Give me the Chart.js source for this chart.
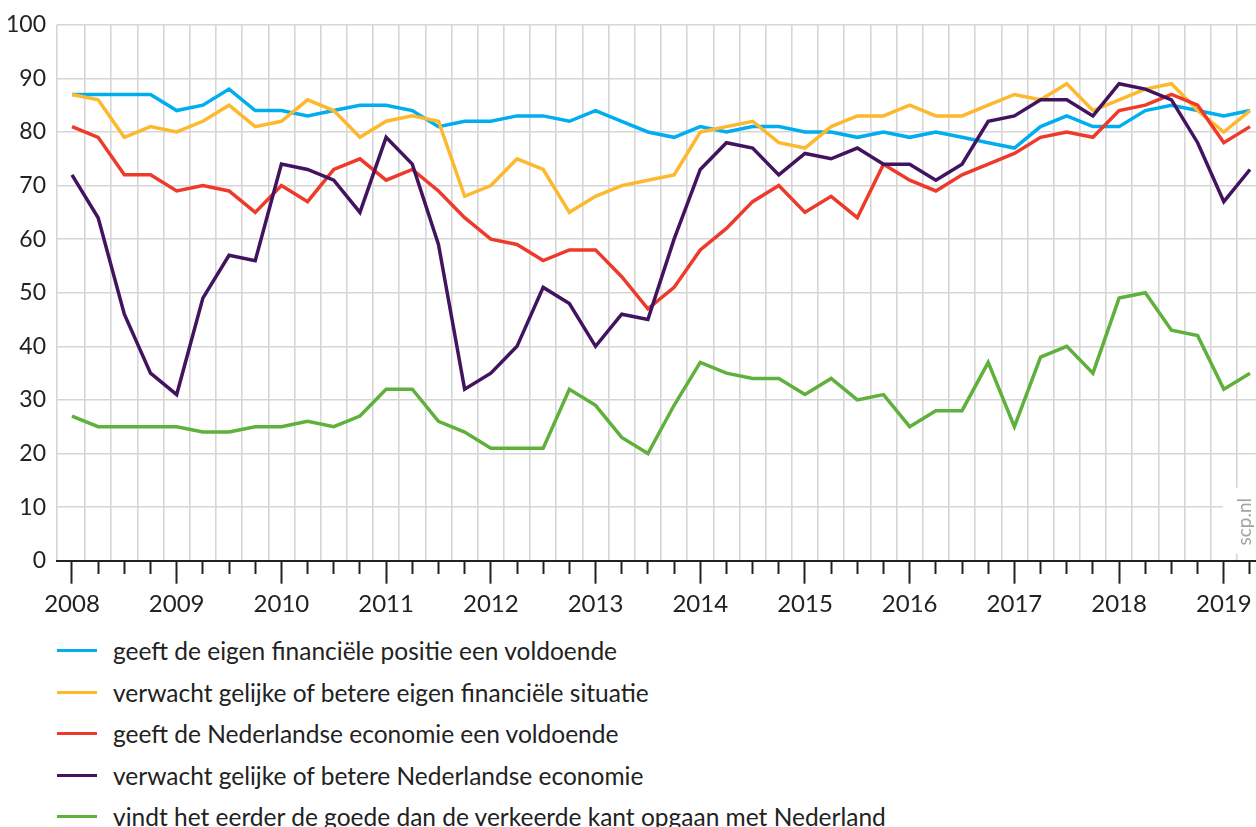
<!DOCTYPE html>
<html lang="nl">
<head>
<meta charset="utf-8">
<title>Vertrouwen in financiële situatie en economie</title>
<script src="https://cdn.jsdelivr.net/npm/chart.js@4.4.1/dist/chart.umd.min.js"></script>
<style>
  html, body { margin: 0; padding: 0; background: #fff; }
  body { width: 1256px; height: 827px; overflow: hidden; position: relative; font-family: Lato, "Noto Sans", sans-serif; color: #222; }
  #wrap { position: absolute; left: 0; top: 0; width: 1256px; height: 628px; }
  #legenda { position: absolute; left: 57px; top: 630px; margin: 0; padding: 0; list-style: none; }
  #legenda li { height: 41.5px; display: flex; align-items: center; font-size: 24.5px; white-space: nowrap; }
  #legenda .lijn { display: inline-block; width: 40px; height: 3px; margin-right: 16px; }
</style>
</head>
<body>
<div id="wrap"><canvas id="grafiek"></canvas></div>
<ul id="legenda"></ul>
<script>
// kwartalen 2008-1 t/m 2019-2
const kwartalen = [
  '2008-1','2008-2','2008-3','2008-4','2009-1','2009-2','2009-3','2009-4',
  '2010-1','2010-2','2010-3','2010-4','2011-1','2011-2','2011-3','2011-4',
  '2012-1','2012-2','2012-3','2012-4','2013-1','2013-2','2013-3','2013-4',
  '2014-1','2014-2','2014-3','2014-4','2015-1','2015-2','2015-3','2015-4',
  '2016-1','2016-2','2016-3','2016-4','2017-1','2017-2','2017-3','2017-4',
  '2018-1','2018-2','2018-3','2018-4','2019-1','2019-2'
];
const jaren = [2008, 2009, 2010, 2011, 2012, 2013, 2014, 2015, 2016, 2017, 2018, 2019];
const yTicks = [0, 10, 20, 30, 40, 50, 60, 70, 80, 90, 100];

// percentages per reeks
const eigenPositie = [
  87, 87, 87, 87, 84, 85, 88, 84, 84, 83, 84, 85, 85, 84, 81, 82,
  82, 83, 83, 82, 84, 82, 80, 79, 81, 80, 81, 81, 80, 80, 79, 80,
  79, 80, 79, 78, 77, 81, 83, 81, 81, 84, 85, 84, 83, 84
];
const eigenVerwachting = [
  87, 86, 79, 81, 80, 82, 85, 81, 82, 86, 84, 79, 82, 83, 82, 68,
  70, 75, 73, 65, 68, 70, 71, 72, 80, 81, 82, 78, 77, 81, 83, 83,
  85, 83, 83, 85, 87, 86, 89, 84, 86, 88, 89, 84, 80, 84
];
const economiePositie = [
  81, 79, 72, 72, 69, 70, 69, 65, 70, 67, 73, 75, 71, 73, 69, 64,
  60, 59, 56, 58, 58, 53, 47, 51, 58, 62, 67, 70, 65, 68, 64, 74,
  71, 69, 72, 74, 76, 79, 80, 79, 84, 85, 87, 85, 78, 81
];
const economieVerwachting = [
  72, 64, 46, 35, 31, 49, 57, 56, 74, 73, 71, 65, 79, 74, 59, 32,
  35, 40, 51, 48, 40, 46, 45, 60, 73, 78, 77, 72, 76, 75, 77, 74,
  74, 71, 74, 82, 83, 86, 86, 83, 89, 88, 86, 78, 67, 73
];
const goedeKant = [
  27, 25, 25, 25, 25, 24, 24, 25, 25, 26, 25, 27, 32, 32, 26, 24,
  21, 21, 21, 32, 29, 23, 20, 29, 37, 35, 34, 34, 31, 34, 30, 31,
  25, 28, 28, 37, 25, 38, 40, 35, 49, 50, 43, 42, 32, 35
];

const reeksNamen = [
  'geeft de eigen financiële positie een voldoende',
  'verwacht gelijke of betere eigen financiële situatie',
  'geeft de Nederlandse economie een voldoende',
  'verwacht gelijke of betere Nederlandse economie',
  'vindt het eerder de goede dan de verkeerde kant opgaan met Nederland'
];
const reeksen = [eigenPositie, eigenVerwachting, economiePositie, economieVerwachting, goedeKant];
const kleuren = ['#00aeef', '#fdb92d', '#ee3a2a', '#42145f', '#5fb03c'];

// kwartaal -> decimaal jaartal
function naarJaar(k) {
  const [j, q] = k.split('-').map(Number);
  return j + (q - 1) / 4;
}
const xWaarden = kwartalen.map(naarJaar);
const xMin = 2007.857;
const xMax = 2019.306;

const scpLabel = {
  id: 'scpLabel',
  afterDatasetsDraw(chart) {
    const ctx = chart.ctx;
    const a = chart.chartArea;
    ctx.save();
    ctx.fillStyle = '#fff';
    ctx.fillRect(a.right - 33, a.bottom - 73, 33, 66);
    ctx.translate(a.right - 11, a.bottom - 39);
    ctx.rotate(-Math.PI / 2);
    ctx.fillStyle = '#a3a3a3';
    ctx.font = '19px Lato';
    ctx.textAlign = 'center';
    ctx.textBaseline = 'middle';
    ctx.fillText('scp.nl', 0, 0);
    ctx.restore();
  }
};

new Chart(document.getElementById('grafiek'), {
  type: 'line',
  data: {
    datasets: reeksen.map((r, i) => ({
      label: reeksNamen[i],
      data: r.map((v, j) => ({ x: xWaarden[j], y: v })),
      borderColor: kleuren[i],
      backgroundColor: kleuren[i],
      borderWidth: 3.5,
      pointRadius: 0,
      tension: 0,
      fill: false,
      order: 5 - i
    }))
  },
  options: {
    responsive: true,
    maintainAspectRatio: false,
    animation: false,
    layout: { padding: { top: 23, right: 0, bottom: 3.5, left: 0 } },
    plugins: { legend: { display: false }, tooltip: { enabled: false } },
    scales: {
      x: {
        type: 'linear',
        position: 'bottom',
        min: xMin,
        max: xMax,
        afterBuildTicks: axis => {
          axis.ticks = [xMin].concat(xWaarden.map(v => v + 0.125)).map(v => ({ value: v }));
        },
        ticks: { display: false, autoSkip: false },
        grid: { color: '#d6d6d6', lineWidth: 1.6, drawTicks: false },
        border: { display: false }
      },
      xt: {
        type: 'linear',
        position: 'bottom',
        min: xMin,
        max: xMax,
        afterBuildTicks: axis => {
          axis.ticks = xWaarden.map(v => ({ value: v }));
        },
        ticks: {
          autoSkip: false,
          maxRotation: 0,
          minRotation: 0,
          padding: 6,
          color: '#222',
          font: { family: 'Lato', size: 24 },
          callback: v => jaren.includes(v) ? String(v) : ''
        },
        grid: {
          drawOnChartArea: false,
          drawTicks: true,
          tickLength: 23,
          tickWidth: 2,
          tickColor: '#222',
          tickBorderDash: ctx => jaren.includes(ctx.tick.value) ? [] : [12, 40]
        },
        border: { display: true, color: '#222', width: 2 }
      },
      y: {
        min: 0,
        max: 100,
        afterBuildTicks: axis => {
          axis.ticks = yTicks.map(v => ({ value: v }));
        },
        afterFit: axis => { axis.width = 57; },
        ticks: {
          padding: 11,
          color: '#222',
          font: { family: 'Lato', size: 23 }
        },
        grid: {
          color: ctx => ctx.tick && ctx.tick.value === 0 ? 'rgba(0,0,0,0)' : '#d6d6d6',
          lineWidth: 1.6,
          drawTicks: false
        },
        border: { display: false }
      }
    }
  },
  plugins: [scpLabel]
});

// legenda
const legenda = document.getElementById('legenda');
reeksNamen.forEach((naam, i) => {
  const li = document.createElement('li');
  const lijn = document.createElement('span');
  lijn.className = 'lijn';
  lijn.style.background = kleuren[i];
  li.appendChild(lijn);
  li.appendChild(document.createTextNode(naam));
  legenda.appendChild(li);
});
</script>
</body>
</html>
